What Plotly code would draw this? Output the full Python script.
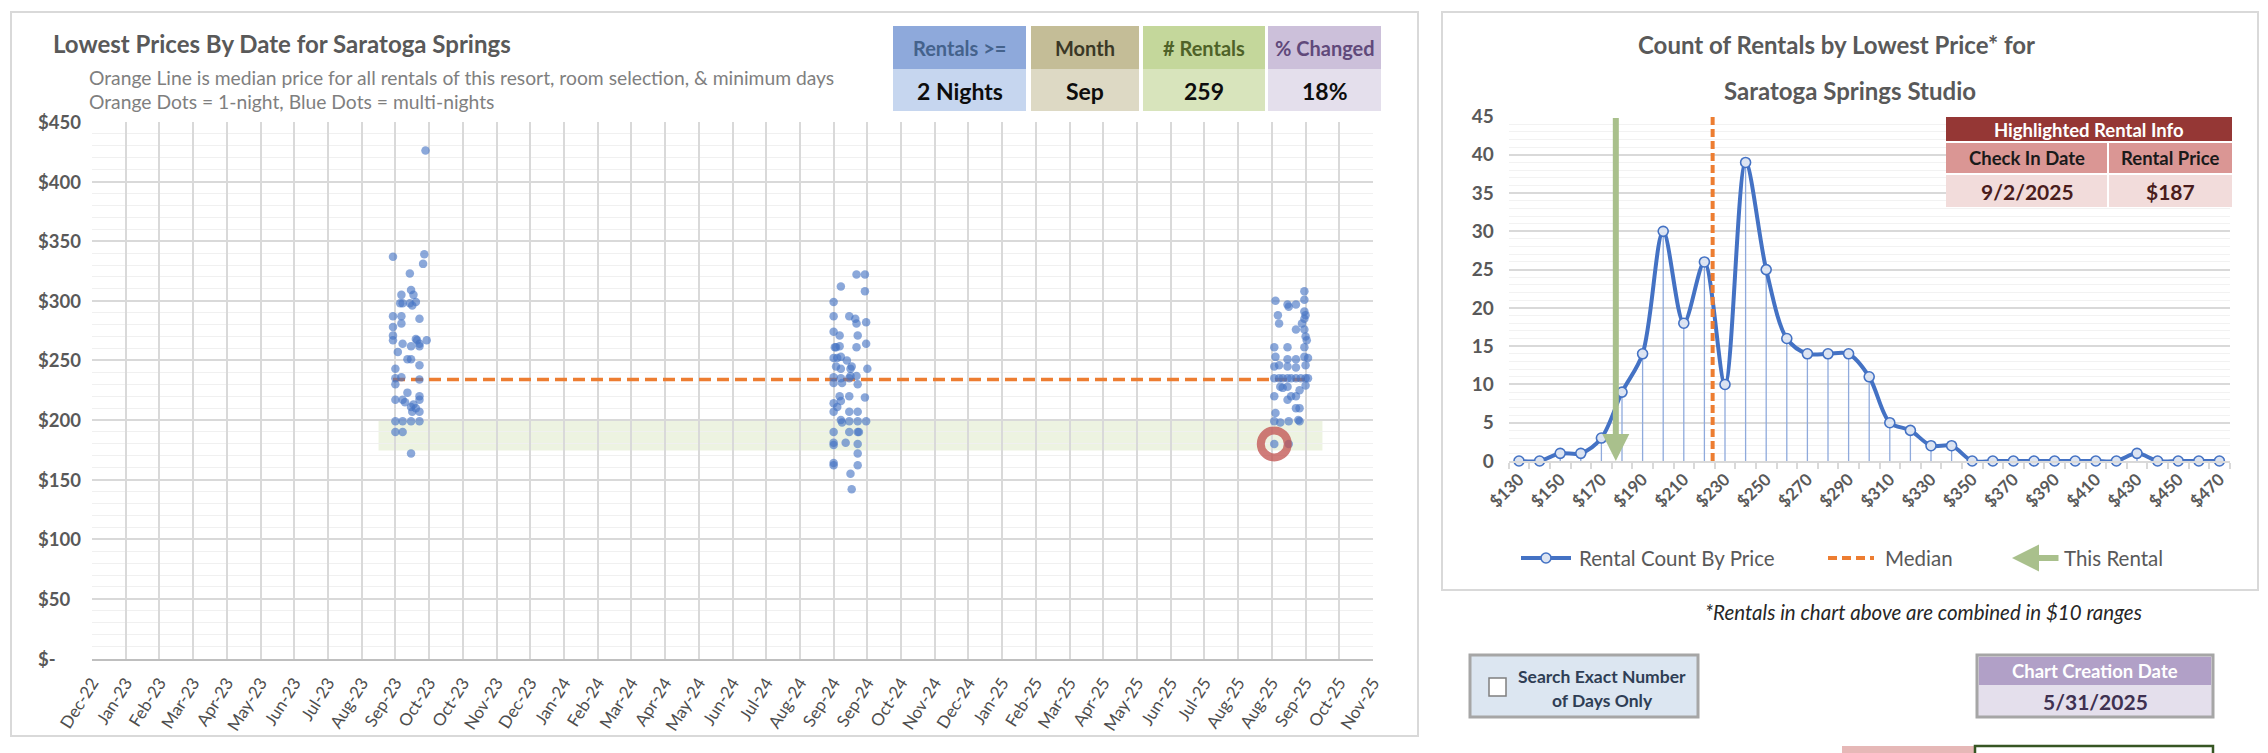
import plotly.graph_objects as go
from datetime import date, timedelta

W, H = 2268, 753
FONT = "Lato"
GRAY_TXT = "#595959"

# ---------------- scatter data: lowest price by September check-in day ----------------
SEP2023_DAY = [28, 1, 27, 26, 15, 8, 16, 18, 7, 9, 15, 17, 20,
               1, 8, 23, 8, 1, 1, 1, 9, 20, 21, 23, 23, 29, 16, 5, 13, 16, 23, 3,
               3, 8, 23, 3, 13, 3, 9, 11, 16, 18, 17, 23, 23, 23, 20,
               3, 9, 16, 23, 3, 9, 16]
SEP2023_PRICE = [426, 337, 339, 331, 323, 305, 309, 305, 298, 298, 298, 296, 299,
                 287, 287, 285, 281, 278, 271, 267, 264, 268, 267, 262, 264, 267, 262, 257, 251, 251, 246, 243,
                 235, 236, 234, 230, 223, 217, 217, 215, 211, 213, 207, 220, 217, 207, 210,
                 199, 199, 199, 199, 190, 190, 172]

SEP2024_DAY = [20, 27, 7, 27, 1, 1, 14, 19, 20, 28, 1, 6, 21, 28, 2, 3, 6, 20,
               1, 4, 7, 12, 3, 7, 15, 16, 29, 1, 1, 7, 8, 14, 15, 20, 21,
               6, 7, 14, 27, 1, 1, 4, 14, 21, 7, 8, 14, 21, 28,
               1, 14, 21, 22, 1, 1, 11, 21, 21, 1, 1, 21, 15, 16]
SEP2024_PRICE = [322, 322, 312, 308, 299, 287, 287, 285, 281, 282, 274, 271, 271, 264, 261, 261, 262, 261,
                 252, 252, 253, 250, 245, 243, 243, 245, 243, 236, 231, 235, 231, 235, 237, 237, 230,
                 220, 216, 220, 219, 214, 207, 211, 207, 207, 200, 198, 199, 199, 199,
                 190, 190, 190, 190, 181, 179, 181, 180, 172, 164, 162, 162, 155, 142]

SEP2025_DAY = [27, 3, 13, 14, 20, 27, 27, 28, 27, 5, 6, 25, 20, 27, 28, 29,
               2, 13, 27, 3, 13, 20, 27, 30, 28, 2, 6, 13, 20,
               2, 6, 9, 13, 16, 20, 24, 28, 30,
               9, 7, 13, 28, 23, 2, 16, 20, 13, 20, 23, 3,
               2, 7, 14, 22, 23, 2, 14]
SEP2025_PRICE = [308, 300, 297, 295, 297, 301, 291, 288, 285, 288, 281, 281, 276, 276, 270, 267,
                 261, 261, 261, 253, 251, 251, 253, 252, 246, 245, 246, 245, 244,
                 235, 235, 235, 235, 235, 235, 235, 235, 235,
                 227, 228, 228, 229, 225, 220, 220, 220, 217, 210, 210, 206,
                 199, 198, 199, 200, 199, 180, 180]

MEDIAN_PRICE = 234
HIGHLIGHT_DATE = "9/2/2025"
HIGHLIGHT_PRICE = 187
HIGHLIGHT_INDEX_2025 = 55          # the highlighted rental among the 2025 points

X_TICK_LABELS = ["Dec-22", "Jan-23", "Feb-23", "Mar-23", "Apr-23", "May-23", "Jun-23", "Jul-23",
                 "Aug-23", "Sep-23", "Oct-23", "Oct-23", "Nov-23", "Dec-23", "Jan-24", "Feb-24",
                 "Mar-24", "Apr-24", "May-24", "Jun-24", "Jul-24", "Aug-24", "Sep-24", "Sep-24",
                 "Oct-24", "Nov-24", "Dec-24", "Jan-25", "Feb-25", "Mar-25", "Apr-25", "May-25",
                 "Jun-25", "Jul-25", "Aug-25", "Aug-25", "Sep-25", "Oct-25", "Nov-25"]
Y_TICK_VALUES = [0, 50, 100, 150, 200, 250, 300, 350, 400, 450]
Y_TICK_LABELS = ["$-", "$50", "$100", "$150", "$200", "$250", "$300", "$350", "$400", "$450"]

# ---------------- histogram data ----------------
BIN_PRICES = [130, 140, 150, 160, 170, 180, 190, 200, 210, 220, 230, 240, 250, 260, 270, 280,
              290, 300, 310, 320, 330, 340, 350, 360, 370, 380, 390, 400, 410, 420, 430, 440,
              450, 460, 470]
BIN_COUNTS = [0, 0, 1, 1, 3, 9, 14, 30, 18, 26, 10, 39, 25, 16, 14, 14,
              14, 11, 5, 4, 2, 2, 0, 0, 0, 0, 0, 0, 0, 0, 1, 0,
              0, 0, 0]
HIST_TICK_LABELS = ["$130", "$150", "$170", "$190", "$210", "$230", "$250", "$270", "$290",
                    "$310", "$330", "$350", "$370", "$390", "$410", "$430", "$450", "$470"]
BIN_WIDTH = 10

KPI_HEADERS = ["Rentals >=", "Month", "# Rentals", "% Changed"]
KPI_VALUES = ["2 Nights", "Sep", "259", "18%"]
CREATION_DATE = "5/31/2025"

# ---------------- helpers ----------------
def px(x):
    return x / W


def py(y):
    return 1 - y / H


shapes, annotations = [], []


def rect(x0, y0, x1, y1, fill, line_color=None, line_width=0, layer="above"):
    shapes.append(dict(type="rect", xref="paper", yref="paper",
                       x0=px(x0), x1=px(x1), y0=py(y1), y1=py(y0),
                       fillcolor=fill, line=dict(color=line_color or fill, width=line_width),
                       layer=layer))


def text(x, y, s, size, color, weight=400, style="normal", xanchor="center"):
    annotations.append(dict(xref="paper", yref="paper", x=px(x), y=py(y), text=s,
                            showarrow=False, xanchor=xanchor, yanchor="middle",
                            font=dict(family=FONT, size=size, color=color, weight=weight, style=style)))


# ---------------- build scatter arrays ----------------
dates, prices = [], []
for yr, days, pr in [(2023, SEP2023_DAY, SEP2023_PRICE), (2024, SEP2024_DAY, SEP2024_PRICE),
                     (2025, SEP2025_DAY, SEP2025_PRICE)]:
    for d, p in zip(days, pr):
        dates.append(date(yr, 9, d))
        prices.append(p)

first_date, last_date = min(dates), max(dates)
hl_date = date(2025, 9, SEP2025_DAY[HIGHLIGHT_INDEX_2025])
hl_price = SEP2025_PRICE[HIGHLIGHT_INDEX_2025]

AXIS_START = date(2022, 12, 25)
AXIS_STEP = 28
tick_dates = [AXIS_START + timedelta(days=AXIS_STEP * k) for k in range(len(X_TICK_LABELS))]

fig = go.Figure()

# highlighted price band
shapes.append(dict(type="rect", xref="x", yref="y",
                   x0=first_date - timedelta(days=12), x1=last_date + timedelta(days=12),
                   y0=HIGHLIGHT_PRICE - 12.5, y1=HIGHLIGHT_PRICE + 12.5,
                   fillcolor="rgba(196,215,155,0.30)", line=dict(width=0), layer="below"))

fig.add_trace(go.Scatter(x=[first_date, last_date], y=[MEDIAN_PRICE, MEDIAN_PRICE], mode="lines",
                         line=dict(color="#ED7D31", width=3.5, dash="12px,6px"),
                         xaxis="x", yaxis="y", hoverinfo="skip"))
fig.add_trace(go.Scatter(x=dates, y=prices, mode="markers",
                         marker=dict(size=8.5, color="#4472C4", opacity=0.62, line=dict(width=0)),
                         xaxis="x", yaxis="y"))
fig.add_trace(go.Scatter(x=[hl_date], y=[hl_price], mode="markers",
                         marker=dict(symbol="circle-open", size=27, color="rgba(192,80,77,0.75)",
                                     line=dict(width=8, color="rgba(192,80,77,0.75)")),
                         xaxis="x", yaxis="y", cliponaxis=False))

# ---------------- histogram ----------------
idx = list(range(1, len(BIN_PRICES) + 1))
drop_x, drop_y = [], []
for i, c in zip(idx, BIN_COUNTS):
    drop_x += [i, i, None]
    drop_y += [0, c, None]
fig.add_trace(go.Scatter(x=drop_x, y=drop_y, mode="lines", line=dict(color="#8FAADC", width=1.3),
                         xaxis="x2", yaxis="y2", hoverinfo="skip"))
fig.add_trace(go.Scatter(x=idx, y=BIN_COUNTS, mode="lines+markers",
                         line=dict(color="#4472C4", width=4, shape="spline", smoothing=0.9),
                         marker=dict(size=10, color="#DCE4F2", line=dict(color="#4472C4", width=1.6)),
                         xaxis="x2", yaxis="y2", cliponaxis=False))
median_pos = (MEDIAN_PRICE - BIN_PRICES[0]) / BIN_WIDTH
fig.add_trace(go.Scatter(x=[median_pos, median_pos], y=[0, 45], mode="lines",
                         line=dict(color="#ED7D31", width=4, dash="8px,4px"),
                         xaxis="x2", yaxis="y2", hoverinfo="skip"))
arrow_pos = (HIGHLIGHT_PRICE - BIN_PRICES[0]) / BIN_WIDTH
annotations.append(dict(x=arrow_pos, y=0, xref="x2", yref="y2", ax=arrow_pos, ay=45,
                        axref="x2", ayref="y2", text="", showarrow=True, arrowhead=2,
                        arrowsize=0.9, arrowwidth=6, arrowcolor="#A9C08C", standoff=0))

hist_tickvals = [idx[BIN_PRICES.index(int(t[1:]))] for t in HIST_TICK_LABELS]

# ---------------- panels ----------------
rect(11, 12, 1418, 736, "rgba(0,0,0,0)", "#D9D9D9", 2, layer="below")
rect(1442, 12, 2258, 590, "rgba(0,0,0,0)", "#D9D9D9", 2, layer="below")

# left titles
text(51, 44, "Lowest Prices By Date for Saratoga Springs", 24, GRAY_TXT, 700, xanchor="left")
text(87, 77, "Orange Line is median price for all rentals of this resort, room selection, &amp; minimum days",
     19.3, "#7F7F7F", xanchor="left")
text(87, 101, "Orange Dots = 1-night, Blue Dots = multi-nights", 19.3, "#7F7F7F", xanchor="left")

# left y tick labels (left aligned, accounting style)
for v, lab in zip(Y_TICK_VALUES, Y_TICK_LABELS):
    annotations.append(dict(xref="paper", yref="y", x=px(36), y=v, text=lab, showarrow=False,
                            xanchor="left", yanchor="middle",
                            font=dict(family=FONT, size=18.5, color=GRAY_TXT, weight=700)))

# KPI boxes
kpi_x = [(893, 1026), (1031, 1139), (1143, 1265), (1268, 1381)]
kpi_head_fill = ["#8EA9DB", "#C4BD97", "#C4D79B", "#CCC0DA"]
kpi_val_fill = ["#C6D6EF", "#DDD9C4", "#D8E4BC", "#E4DFEC"]
kpi_head_txt = ["#44628C", "#3A3826", "#4F6228", "#60497A"]
for (x0, x1), hf, vf, ht, h, v in zip(kpi_x, kpi_head_fill, kpi_val_fill, kpi_head_txt,
                                       KPI_HEADERS, KPI_VALUES):
    rect(x0, 26, x1, 69, hf)
    rect(x0, 69, x1, 111, vf)
    text((x0 + x1) / 2, 48, h.replace(">", "&gt;"), 20, ht, 700)
    text((x0 + x1) / 2, 91, v, 23, "#0D0D0D", 700)

# right chart titles
text(1836, 45, "Count of Rentals by Lowest Price* for", 24, GRAY_TXT, 700)
text(1850, 90, "Saratoga Springs Studio", 24, GRAY_TXT, 700)

# highlighted rental table
rect(1946, 117, 2232, 142, "#953735")
rect(1946, 142, 2108, 174, "#DA9694")
rect(2108, 142, 2232, 174, "#DA9694")
rect(1946, 174, 2108, 207, "#F2DCDB")
rect(2108, 174, 2232, 207, "#F2DCDB")
shapes.append(dict(type="line", xref="paper", yref="paper", x0=px(2108), x1=px(2108),
                   y0=py(207), y1=py(142), line=dict(color="white", width=2), layer="above"))
shapes.append(dict(type="line", xref="paper", yref="paper", x0=px(1946), x1=px(2232),
                   y0=py(174), y1=py(174), line=dict(color="white", width=2), layer="above"))
shapes.append(dict(type="line", xref="paper", yref="paper", x0=px(1946), x1=px(2232),
                   y0=py(142), y1=py(142), line=dict(color="white", width=2), layer="above"))
text(2089, 130, "Highlighted Rental Info", 18.5, "white", 700)
text(2027, 158, "Check In Date", 18.5, "#1A1A1A", 700)
text(2170, 158, "Rental Price", 18.5, "#1A1A1A", 700)
text(2027, 191, HIGHLIGHT_DATE, 21, "#4A1C1C", 700)
text(2170, 191, f"${HIGHLIGHT_PRICE}", 21, "#4A1C1C", 700)

# custom legend
LEG_Y = 558
shapes.append(dict(type="line", xref="paper", yref="paper", x0=px(1521), x1=px(1571),
                   y0=py(LEG_Y), y1=py(LEG_Y), line=dict(color="#4472C4", width=4)))
shapes.append(dict(type="circle", xref="paper", yref="paper", x0=px(1541), x1=px(1551),
                   y0=py(LEG_Y + 5), y1=py(LEG_Y - 5), fillcolor="#DCE4F2",
                   line=dict(color="#4472C4", width=1.6)))
text(1577, LEG_Y, "Rental Count By Price", 20.5, GRAY_TXT, xanchor="left")
shapes.append(dict(type="line", xref="paper", yref="paper", x0=px(1828), x1=px(1874),
                   y0=py(LEG_Y), y1=py(LEG_Y), line=dict(color="#ED7D31", width=4, dash="9px,5px")))
text(1883, LEG_Y, "Median", 20.5, GRAY_TXT, xanchor="left")
annotations.append(dict(xref="paper", yref="paper", x=px(2012), y=py(LEG_Y), ax=48, ay=0,
                        text="", showarrow=True, arrowhead=2, arrowsize=0.9, arrowwidth=6,
                        arrowcolor="#A9C08C", standoff=0))
text(2062, LEG_Y, "This Rental", 20.5, GRAY_TXT, xanchor="left")

# footnote
text(1923, 612, "*Rentals in chart above are combined in $10 ranges", 20.5, "#262626", style="italic")

# checkbox widget
rect(1470, 655, 1698, 717, "#DCE6F1", "#A6A6A6", 3, layer="below")
rect(1489, 678, 1506, 696, "white", "#7F7F7F", 1.5)
text(1602, 676, "Search Exact Number", 17.5, "#2F3E55", 700)
text(1602, 700, "of Days Only", 17.5, "#2F3E55", 700)

# chart creation date
rect(1977, 655, 2213, 717, "#E4DFEC", "#A6A6A6", 3, layer="below")
rect(1979, 657, 2211, 685, "#B1A0C7")
text(2095, 671, "Chart Creation Date", 18.5, "white", 700)
text(2095, 701, CREATION_DATE, 21, "#3F3151", 700)

# partial widgets at the bottom edge
rect(1842, 746, 1975, 760, "#E6B8B7")
rect(1975, 746, 2213, 760, "white", "#375623", 2.5)

fig.update_layout(
    template="none",
    width=W, height=H, autosize=False,
    margin=dict(l=0, r=0, t=0, b=0, pad=0, autoexpand=False),
    paper_bgcolor="white", plot_bgcolor="white", showlegend=False,
    font=dict(family=FONT, color=GRAY_TXT),
    shapes=shapes, annotations=annotations,
    xaxis=dict(domain=[px(92), px(1373)], anchor="y", type="date", automargin=False,
               range=[tick_dates[0], tick_dates[-1]],
               tickmode="array", tickvals=tick_dates, ticktext=X_TICK_LABELS,
               tickangle=-58, tickfont=dict(family=FONT, size=17, color="#4D4D4D"),
               showgrid=True, gridcolor="#D9D9D9", gridwidth=1.5,
               showline=True, linecolor="#BFBFBF", linewidth=1.5, zeroline=False,
               ticks="", ticklabelstandoff=6, fixedrange=True),
    yaxis=dict(domain=[py(658.5), py(122)], anchor="x", range=[0, 450], automargin=False,
               tick0=0, dtick=50, showticklabels=False, showgrid=True,
               gridcolor="#D9D9D9", gridwidth=1.5, zeroline=False, showline=False,
               minor=dict(dtick=10, showgrid=True, gridcolor="#F0F0F0", gridwidth=1)),
    xaxis2=dict(domain=[px(1508.7), px(2229.7)], anchor="y2", range=[0.5, len(idx) + 0.5],
                automargin=False,
                tickmode="array", tickvals=hist_tickvals, ticktext=HIST_TICK_LABELS,
                tickangle=-45, tickfont=dict(family=FONT, size=17, color=GRAY_TXT, weight=700),
                showgrid=False, showline=True, linecolor="#D9D9D9", linewidth=1.5,
                zeroline=False, ticks="",
                minor=dict(tickmode="linear", tick0=0.5, dtick=1, ticks="outside", ticklen=6,
                           tickcolor="#D9D9D9", tickwidth=1.5, showgrid=False)),
    yaxis2=dict(domain=[py(461), py(116.5)], anchor="x2", range=[0, 45], tick0=0, dtick=5,
                automargin=False,
                tickfont=dict(family=FONT, size=19, color=GRAY_TXT, weight=700),
                showgrid=True, gridcolor="#D9D9D9", gridwidth=1.5, zeroline=False, showline=False,
                ticks="", ticklabelstandoff=14,
                minor=dict(dtick=1, showgrid=True, gridcolor="#F2F2F2", gridwidth=1)),
)

fig.write_html("out.html", config={"displayModeBar": False},
               post_script="document.body.style.margin='0';document.body.style.overflow='hidden';")
